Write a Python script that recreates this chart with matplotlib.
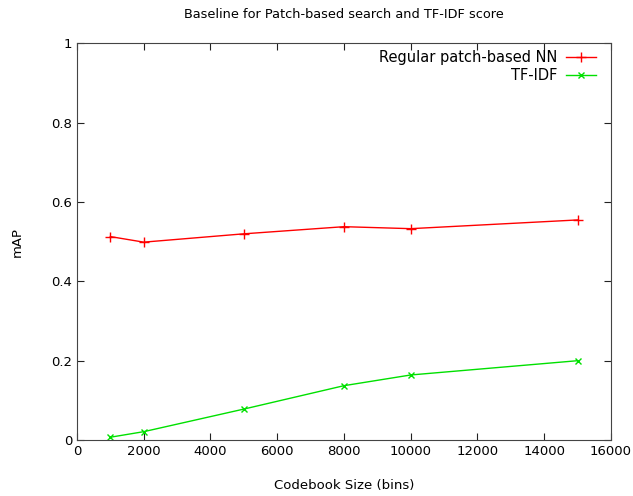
import matplotlib.pyplot as plt

codebook = [1000, 2000, 5000, 8000, 10000, 15000]
patch_nn = [0.513, 0.499, 0.520, 0.538, 0.533, 0.555]
tfidf = [0.007, 0.021, 0.078, 0.137, 0.164, 0.200]

plt.rcParams['font.family'] = 'DejaVu Sans'
plt.rcParams['font.size'] = 9.5

fig = plt.figure(figsize=(6.33, 4.96), dpi=100)
ax = fig.add_axes([0.1216, 0.1129, 0.8436, 0.7994])

ax.plot(codebook, patch_nn, color='#ff0000', lw=1, marker='+', ms=7, mew=1,
        label='Regular patch-based NN')
ax.plot(codebook, tfidf, color='#00e000', lw=1, marker='x', ms=5, mew=1,
        label='TF-IDF')

ax.set_xlim(0, 16000)
ax.set_ylim(0, 1)
ax.set_xticks(range(0, 16001, 2000))
ax.set_yticks([0, 0.2, 0.4, 0.6, 0.8, 1])
ax.set_yticklabels(['0', '0.2', '0.4', '0.6', '0.8', '1'])
ax.tick_params(direction='in', top=True, right=True, length=5, color='#222222')
for s in ax.spines.values():
    s.set_color('#444444')

ax.set_title('Baseline for Patch-based search and TF-IDF score', fontsize=9.3, pad=18)
ax.set_xlabel('Codebook Size (bins)', labelpad=15)
ax.set_ylabel('mAP', labelpad=20)

leg = ax.legend(loc='upper right', bbox_to_anchor=(0.985, 1.0), frameon=False,
                markerfirst=False, fontsize=10.5, handlelength=2.1,
                handletextpad=0.6, borderaxespad=0.05, labelspacing=0.2)
for t in leg.get_texts():
    t.set_ha('right')

fig.savefig('out.png', dpi=100)
